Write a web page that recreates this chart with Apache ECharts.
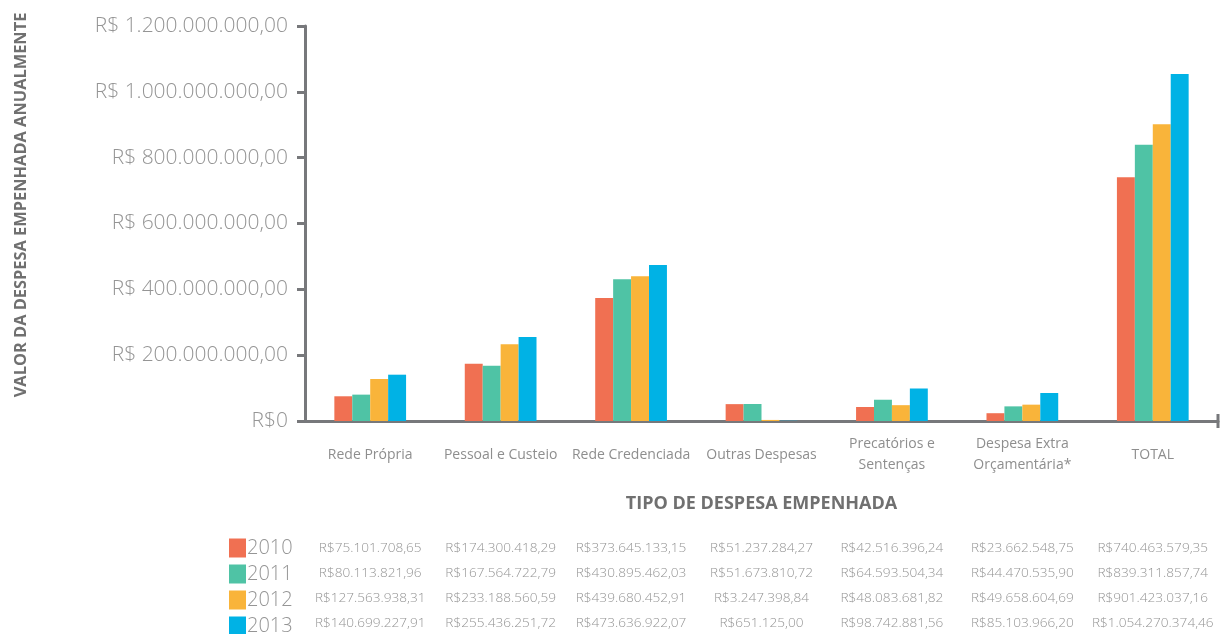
<!DOCTYPE html>
<html>
<head>
<meta charset="utf-8">
<script src="https://cdn.jsdelivr.net/npm/echarts@6/dist/echarts.min.js"></script>
<style>
  html, body { margin: 0; padding: 0; background: #fff; }
  #chart { width: 1222px; height: 634px; }
</style>
</head>
<body>
<div id="chart"></div>
<script>
// Expense categories (axis labels)
const categories = [
  'Rede Própria',
  'Pessoal e Custeio',
  'Rede Credenciada',
  'Outras Despesas',
  'Precatórios e\nSentenças',
  'Despesa Extra\nOrçamentária*',
  'TOTAL'
];

const years = ['2010', '2011', '2012', '2013'];

// Committed expense per year (R$)
const values2010 = [75101708.65, 174300418.29, 373645133.15, 51237284.27, 42516396.24, 23662548.75, 740463579.35];
const values2011 = [80113821.96, 167564722.79, 430895462.03, 51673810.72, 64593504.34, 44470535.90, 839311857.74];
const values2012 = [127563938.31, 233188560.59, 439680452.91, 3247398.84, 48083681.82, 49658604.69, 901423037.16];
const values2013 = [140699227.91, 255436251.72, 473636922.07, 651125.00, 98742881.56, 85103966.20, 1054270374.46];

const yearValues = [values2010, values2011, values2012, values2013];
const colors = ['#F07052', '#4FC3A5', '#F9B43A', '#00B2E5'];

const FONT = '"Open Sans", "DejaVu Sans", sans-serif';
const GREY = '#8e8e8e';
const LIGHT = '#959595';
const AXIS = '#77787b';

// Brazilian currency formatting: 1.234.567,89
function brl(v, decimals) {
  const parts = v.toFixed(decimals).split('.');
  const intPart = parts[0].replace(/\B(?=(\d{3})+(?!\d))/g, '.');
  return decimals ? intPart + ',' + parts[1] : intPart;
}

const chart = echarts.init(document.getElementById('chart'), null, { renderer: 'canvas' });

const series = years.map((y, i) => ({
  name: y,
  type: 'bar',
  data: yearValues[i],
  itemStyle: { color: colors[i] },
  barGap: '0%',
  barCategoryGap: '45%'
}));

chart.setOption({
  animation: false,
  textStyle: { fontFamily: FONT },
  grid: { left: 305, right: 4, top: 26, bottom: 213, containLabel: false },
  legend: {
    orient: 'vertical',
    left: 229,
    top: 538,
    height: 100,
    padding: 0,
    itemWidth: 17,
    itemHeight: 19,
    itemGap: 6,
    icon: 'rect',
    data: years,
    textStyle: { fontSize: 20, fontWeight: 300, color: LIGHT, fontFamily: FONT, padding: [0, 0, 0, -4] },
    selectedMode: false
  },
  xAxis: {
    type: 'category',
    data: categories,
    name: 'TIPO DE DESPESA EMPENHADA',
    nameLocation: 'middle',
    nameGap: 74,
    nameTextStyle: { fontSize: 18, fontWeight: 'bold', color: '#707070', fontFamily: FONT },
    axisLine: {
      lineStyle: { color: AXIS, width: 3 },
      symbol: ['none', 'rect'],
      symbolSize: [14, 3]
    },
    axisTick: { show: false },
    axisLabel: {
      fontSize: 14,
      color: GREY,
      margin: 34,
      lineHeight: 21,
      verticalAlign: 'middle',
      interval: 0
    }
  },
  yAxis: {
    type: 'value',
    min: 0,
    max: 1200000000,
    interval: 200000000,
    splitLine: { show: false },
    axisLine: { show: true, lineStyle: { color: AXIS, width: 3 } },
    axisTick: { show: true, length: 8, lineStyle: { color: AXIS, width: 3 } },
    axisLabel: {
      fontSize: 21,
      fontWeight: 300,
      color: LIGHT,
      margin: 17,
      formatter: v => v === 0 ? 'R$0' : 'R$ ' + brl(v, 2)
    }
  },
  series: series
});

// Value table under the axis, one column per category, one row per year
function drawTable() {
  const elements = [];
  const rowY = [548, 573, 598, 623];
  categories.forEach((c, ci) => {
    const x = chart.convertToPixel({ xAxisIndex: 0 }, ci);
    yearValues.forEach((vals, ri) => {
      elements.push({
        type: 'text',
        x: x,
        y: rowY[ri],
        style: {
          text: 'R$' + brl(vals[ci], 2),
          fill: LIGHT,
          font: '300 13.6px ' + FONT,
          align: 'center',
          verticalAlign: 'middle'
        }
      });
    });
  });
  // Vertical y-axis title
  elements.push({
    type: 'text',
    x: 21,
    y: 205,
    rotation: Math.PI / 2,
    style: {
      text: 'VALOR DA DESPESA EMPENHADA ANUALMENTE',
      fill: '#707070',
      font: 'bold 16.4px ' + FONT,
      align: 'center',
      verticalAlign: 'middle'
    }
  });
  chart.setOption({ graphic: { elements: elements } });
}
drawTable();
</script>
</body>
</html>
